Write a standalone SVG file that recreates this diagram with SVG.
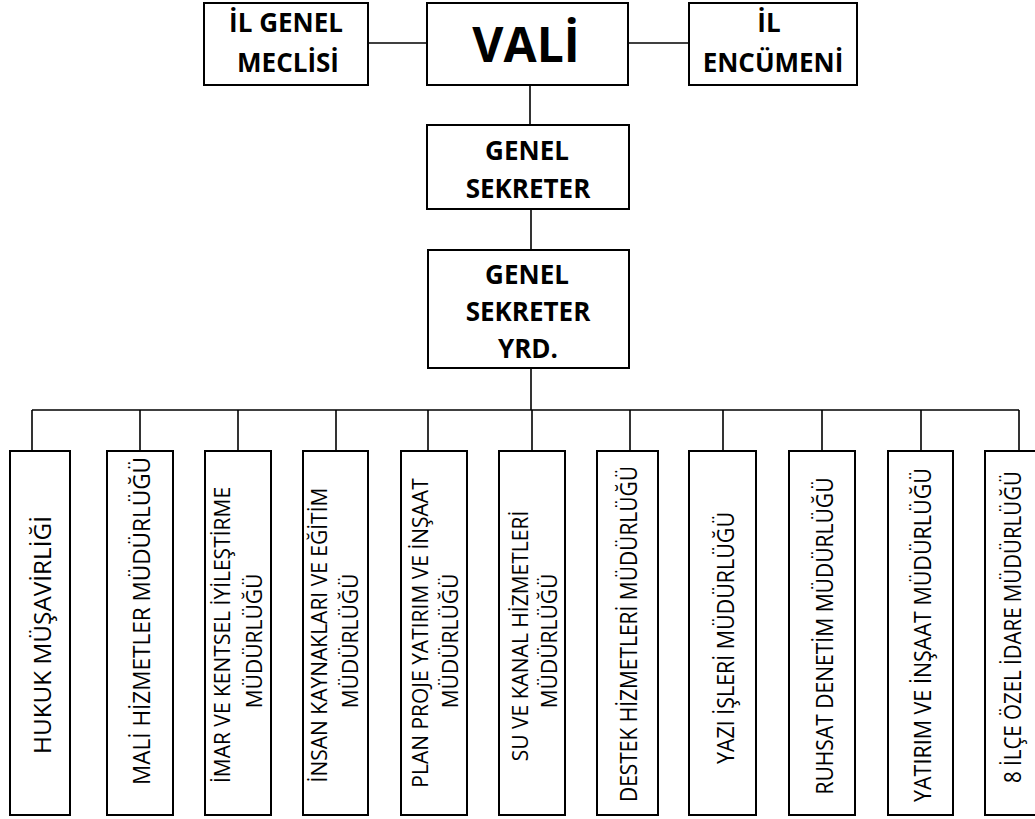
<svg xmlns="http://www.w3.org/2000/svg" width="1035" height="819" viewBox="0 0 1035 819">
<style>
.bg{fill:#ffffff}
.box{fill:#ffffff;stroke:#000000;stroke-width:2}
.ln{fill:none;stroke:#000000;stroke-width:1.6}
.t{font-family:"Open Sans","Liberation Sans",sans-serif;fill:#000000;text-anchor:middle}
.tb{font-family:"Open Sans","Liberation Sans",sans-serif;font-weight:bold;fill:#000000;text-anchor:middle}
.v{font-size:24px}
.v2{font-size:21px}
</style>
<rect class="bg" x="0" y="0" width="1035" height="819"/>
<g id="connectors">
<line class="ln" x1="368" y1="43" x2="427" y2="43"/>
<line class="ln" x1="628" y1="43" x2="689" y2="43"/>
<line class="ln" x1="530" y1="85" x2="530" y2="125"/>
<line class="ln" x1="531" y1="209" x2="531" y2="250"/>
<line class="ln" x1="531" y1="368" x2="531" y2="410"/>
<line class="ln" x1="32" y1="410" x2="1019" y2="410"/>
<line class="ln" x1="32" y1="410" x2="32" y2="451"/>
<line class="ln" x1="140" y1="410" x2="140" y2="451"/>
<line class="ln" x1="238" y1="410" x2="238" y2="451"/>
<line class="ln" x1="336" y1="410" x2="336" y2="451"/>
<line class="ln" x1="428" y1="410" x2="428" y2="451"/>
<line class="ln" x1="532" y1="410" x2="532" y2="451"/>
<line class="ln" x1="630" y1="410" x2="630" y2="451"/>
<line class="ln" x1="723" y1="410" x2="723" y2="451"/>
<line class="ln" x1="822" y1="410" x2="822" y2="451"/>
<line class="ln" x1="921" y1="410" x2="921" y2="451"/>
<line class="ln" x1="1019" y1="410" x2="1019" y2="451"/>
</g>
<g id="il-genel-meclisi">
<rect class="box" x="204" y="3" width="164" height="82"/>
<text class="tb" x="286" y="32" font-size="26">İL GENEL</text>
<text class="tb" x="288" y="72" font-size="26">MECLİSİ</text>
</g>
<g id="vali">
<rect class="box" x="427" y="3" width="201" height="82"/>
<text class="tb" x="526" y="62" font-size="48">VALİ</text>
</g>
<g id="il-encumeni">
<rect class="box" x="689" y="3" width="168" height="82"/>
<text class="tb" x="769" y="32" font-size="26">İL</text>
<text class="tb" x="773" y="72" font-size="26">ENCÜMENİ</text>
</g>
<g id="genel-sekreter">
<rect class="box" x="427" y="125" width="202" height="84"/>
<text class="tb" x="527" y="160" font-size="26">GENEL</text>
<text class="tb" x="528" y="198" font-size="26">SEKRETER</text>
</g>
<g id="genel-sekreter-yrd">
<rect class="box" x="428" y="250" width="201" height="118"/>
<text class="tb" x="527" y="284" font-size="26">GENEL</text>
<text class="tb" x="528" y="321" font-size="26">SEKRETER</text>
<text class="tb" x="528" y="358" font-size="26">YRD.</text>
</g>
<g id="hukuk">
<rect class="box" x="10" y="451" width="60" height="364"/>
<text class="t v" transform="translate(50.5,635) rotate(-90)" textLength="238" lengthAdjust="spacingAndGlyphs">HUKUK MÜŞAVİRLİĞİ</text>
</g>
<g id="mali">
<rect class="box" x="107" y="451" width="66" height="364"/>
<text class="t v" transform="translate(149.5,621) rotate(-90)" textLength="328" lengthAdjust="spacingAndGlyphs">MALİ HİZMETLER MÜDÜRLÜĞÜ</text>
</g>
<g id="imar">
<rect class="box" x="205" y="451" width="66" height="364"/>
<text class="t v2" transform="translate(230,635) rotate(-90)">İMAR VE KENTSEL İYİLEŞTİRME</text>
<text class="t v2" transform="translate(262,641) rotate(-90)">MÜDÜRLÜĞÜ</text>
</g>
<g id="insan">
<rect class="box" x="303" y="451" width="65" height="364"/>
<text class="t v2" transform="translate(327,635) rotate(-90)">İNSAN KAYNAKLARI VE EĞİTİM</text>
<text class="t v2" transform="translate(358,641) rotate(-90)">MÜDÜRLÜĞÜ</text>
</g>
<g id="plan">
<rect class="box" x="401" y="451" width="66" height="364"/>
<text class="t v2" transform="translate(428,633) rotate(-90)">PLAN PROJE YATIRIM VE İNŞAAT</text>
<text class="t v2" transform="translate(458,641) rotate(-90)">MÜDÜRLÜĞÜ</text>
</g>
<g id="su">
<rect class="box" x="499" y="451" width="66" height="364"/>
<text class="t v2" transform="translate(528,636) rotate(-90)">SU VE KANAL HİZMETLERİ</text>
<text class="t v2" transform="translate(557,641) rotate(-90)">MÜDÜRLÜĞÜ</text>
</g>
<g id="destek">
<rect class="box" x="597" y="451" width="61" height="364"/>
<text class="t v" transform="translate(636.5,634) rotate(-90)" textLength="336" lengthAdjust="spacingAndGlyphs">DESTEK HİZMETLERİ MÜDÜRLÜĞÜ</text>
</g>
<g id="yazi">
<rect class="box" x="689" y="451" width="67" height="364"/>
<text class="t v" transform="translate(733.5,638) rotate(-90)" textLength="252" lengthAdjust="spacingAndGlyphs">YAZI İŞLERİ MÜDÜRLÜĞÜ</text>
</g>
<g id="ruhsat">
<rect class="box" x="789" y="451" width="66" height="364"/>
<text class="t v" transform="translate(832.5,636) rotate(-90)" textLength="317" lengthAdjust="spacingAndGlyphs">RUHSAT DENETİM MÜDÜRLÜĞÜ</text>
</g>
<g id="yatirim">
<rect class="box" x="888" y="451" width="65" height="364"/>
<text class="t v" transform="translate(930.5,635) rotate(-90)" textLength="334" lengthAdjust="spacingAndGlyphs">YATIRIM VE İNŞAAT MÜDÜRLÜĞÜ</text>
</g>
<g id="ilce">
<rect class="box" x="985" y="451" width="66" height="364"/>
<text class="t v" transform="translate(1020.5,627) rotate(-90)" textLength="312" lengthAdjust="spacingAndGlyphs">8 İLÇE ÖZEL İDARE MÜDÜRLÜĞÜ</text>
</g>
</svg>
